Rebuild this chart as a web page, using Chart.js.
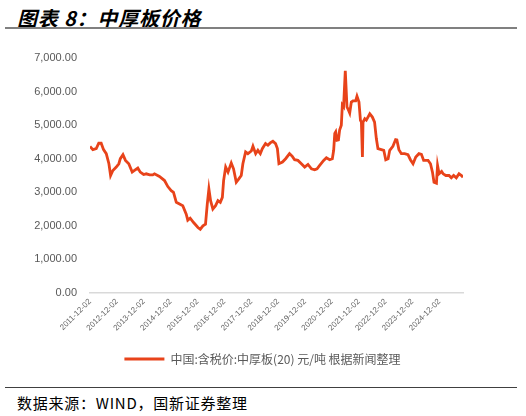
<!DOCTYPE html>
<html>
<head>
<meta charset="utf-8">
<script src="https://cdn.jsdelivr.net/npm/chart.js@4.4.0/dist/chart.umd.min.js"></script>
<style>
body { margin: 0; background: #fff; }
#page { position: relative; width: 526px; height: 416px; overflow: hidden; font-family: "Noto Sans CJK SC", sans-serif; }
#title { position: absolute; left: 17px; top: 3px; font-size: 20px; font-weight: bold; font-style: italic; color: #000; white-space: nowrap; letter-spacing: 0.8px; }
#rule1 { position: absolute; left: 5px; top: 27px; width: 512px; height: 2px; background: #808080; }
#rule2 { position: absolute; left: 5px; top: 387px; width: 512px; height: 1px; background: #404040; }
#src { position: absolute; left: 17px; top: 392px; font-size: 15px; color: #000; white-space: nowrap; letter-spacing: 0.75px; }
#box { position: absolute; left: 0; top: 30px; width: 526px; height: 345px; }
</style>
</head>
<body>
<div id="page">
  <div id="title">图表 8：中厚板价格</div>
  <div id="rule1"></div>
  <div id="box"><canvas id="chart" width="526" height="345"></canvas></div>
  <div id="rule2"></div>
  <div id="src">数据来源：WIND，国新证券整理</div>
</div>
<script>
// price series
var dates = [
  "2011-12-02","2012-01-10","2012-02-25","2012-03-30","2012-05-02","2012-06-03","2012-07-10","2012-08-15",
  "2012-09-07","2012-10-08","2012-11-23","2012-12-28","2013-01-17","2013-02-22","2013-03-28","2013-05-12",
  "2013-06-28","2013-07-29","2013-09-12","2013-10-15","2013-11-30","2014-01-05","2014-02-20","2014-04-03",
  "2014-04-26","2014-07-03","2014-09-10","2014-10-25","2014-12-10","2015-01-10","2015-02-17","2015-04-02",
  "2015-05-16","2015-07-02","2015-07-23","2015-08-25","2015-10-10","2015-12-08","2016-01-09","2016-02-14",
  "2016-03-20","2016-04-13","2016-05-05","2016-05-28","2016-06-28","2016-08-04","2016-09-05","2016-10-07",
  "2016-11-04","2016-11-21","2016-12-19","2017-01-20","2017-03-05","2017-04-05","2017-05-12","2017-06-16",
  "2017-07-19","2017-08-10","2017-09-16","2017-10-17","2017-12-03","2017-12-25","2018-01-31","2018-03-02",
  "2018-04-04","2018-05-01","2018-06-14","2018-07-16","2018-08-17","2018-09-22","2018-10-28","2018-11-22",
  "2018-12-13","2019-01-30","2019-03-14","2019-05-06","2019-06-13","2019-07-14","2019-08-28","2019-10-14",
  "2019-11-28","2020-01-12","2020-02-28","2020-04-12","2020-05-14","2020-06-19","2020-08-12","2020-09-18",
  "2020-11-02","2020-12-08","2020-12-26","2021-01-10","2021-01-23","2021-02-10","2021-03-01","2021-03-17",
  "2021-04-09","2021-04-23","2021-05-10","2021-06-02","2021-06-25","2021-07-13","2021-08-01","2021-08-23",
  "2021-09-14","2021-10-21","2021-11-08","2021-12-05","2021-12-25","2022-01-07","2022-01-21","2022-01-29",
  "2022-02-22","2022-03-15","2022-05-01","2022-06-05","2022-07-05","2022-07-29","2022-08-20","2022-10-05",
  "2022-11-07","2022-12-04","2023-01-05","2023-01-27","2023-03-11","2023-04-17","2023-05-04","2023-06-01",
  "2023-07-04","2023-08-18","2023-10-02","2023-11-04","2023-12-10","2024-01-16","2024-02-28","2024-04-02",
  "2024-05-02","2024-05-29","2024-07-01","2024-08-03","2024-08-30","2024-09-20","2024-10-23","2024-11-07",
  "2024-11-28","2025-01-01","2025-01-22","2025-02-28","2025-04-12","2025-05-13","2025-06-14","2025-07-20",
  "2025-08-26","2025-09-28","2025-10-19"
];
var prices = [
  4365,4270,4300,4460,4460,4270,4150,3850,
  3500,3650,3750,3850,4000,4120,3950,3850,
  3600,3650,3720,3600,3530,3550,3520,3520,
  3550,3470,3350,3170,3050,3000,2700,2650,
  2600,2350,2170,2230,2100,1950,1900,2000,
  2050,2650,3100,2750,2500,2600,2750,2700,
  2850,3350,3750,3600,3870,3700,3300,3400,
  3500,3850,4200,4150,4230,4370,4150,4250,
  4150,4300,4450,4400,4470,4520,4450,4300,
  3850,3900,4000,4150,4070,3970,3950,3850,
  3750,3830,3700,3670,3700,3800,3950,4030,
  3970,4000,4250,4750,4800,4550,4560,4850,
  5000,5600,5550,6620,5540,5460,5360,5690,
  5720,5720,5860,5690,5140,5090,4050,5090,
  5190,5150,5340,5240,5090,4600,4300,4270,
  4250,3970,4000,4250,4370,4570,4560,4270,
  4150,4150,4120,3970,3850,4050,4150,4130,
  3950,3950,3950,3850,3600,3300,3270,3800,
  3550,3620,3550,3500,3500,3430,3500,3430,
  3550,3500,3450
];
var tickDates = [
  "2011-12-02","2012-12-02","2013-12-02","2014-12-02","2015-12-02","2016-12-02","2017-12-02",
  "2018-12-02","2019-12-02","2020-12-02","2021-12-02","2022-12-02","2023-12-02","2024-12-02"
];
var yTicks = [0, 1000, 2000, 3000, 4000, 5000, 6000, 7000];
var seriesName = "中国:含税价:中厚板(20) 元/吨 根据新闻整理";
var lineColor = "#E8431A";

function dayNum(s) {
  var p = s.split("-");
  return Date.UTC(+p[0], +p[1] - 1, +p[2]) / 864e5;
}

var tickLabel = {};
tickDates.forEach(function (d) { tickLabel[dayNum(d)] = d; });

var points = dates.map(function (d, i) { return { x: dayNum(d), y: prices[i] }; });

// move the legend so it sits centred under the page, not under the chart box
var legendShift = {
  id: "legendShift",
  afterLayout: function (chart) {
    var lg = chart.legend;
    if (!lg) return;
    lg.left += 31;
    lg.right += 31;
    lg.adjustHitBoxes();
  }
};

new Chart(document.getElementById("chart"), {
  type: "line",
  data: {
    datasets: [{
      label: seriesName,
      data: points,
      borderColor: lineColor,
      backgroundColor: lineColor,
      borderWidth: 2.8,
      pointRadius: 0,
      tension: 0
    }]
  },
  options: {
    responsive: false,
    animation: false,
    layout: { padding: { left: 0, right: 63, top: 28, bottom: 0 } },
    scales: {
      x: {
        type: "linear",
        min: dayNum(dates[0]),
        max: dayNum(dates[dates.length - 1]),
        grid: { display: false, drawTicks: false },
        border: { display: true, color: "#d9d9d9", width: 1.5 },
        afterBuildTicks: function (s) {
          s.ticks = tickDates.map(function (d) { return { value: dayNum(d) }; });
        },
        afterFit: function (s) { s.height = 50; },
        ticks: {
          autoSkip: false,
          minRotation: 45,
          maxRotation: 45,
          padding: 4,
          color: "#666666",
          font: { family: "'Liberation Sans'", size: 8 },
          callback: function (v) { return tickLabel[v] || ""; }
        }
      },
      y: {
        min: 0,
        max: 7000,
        grid: { display: false, drawTicks: false },
        border: { display: false },
        afterBuildTicks: function (s) {
          s.ticks = yTicks.map(function (v) { return { value: v }; });
        },
        afterFit: function (s) { s.width = 90; },
        ticks: {
          padding: 13,
          color: "#595959",
          font: { family: "'Liberation Sans'", size: 11 },
          callback: function (v) {
            return v.toLocaleString("en-US", { minimumFractionDigits: 2, maximumFractionDigits: 2 });
          }
        }
      }
    },
    plugins: {
      legend: {
        position: "bottom",
        labels: {
          boxWidth: 40,
          boxHeight: 3,
          color: "#595959",
          font: { family: "'Noto Sans CJK SC'", size: 12 },
          generateLabels: function (chart) {
            return Chart.defaults.plugins.legend.labels.generateLabels(chart).map(function (l) {
              l.lineWidth = 0;
              l.fillStyle = lineColor;
              return l;
            });
          }
        }
      },
      tooltip: { enabled: false }
    }
  },
  plugins: [legendShift]
});
</script>
</body>
</html>
